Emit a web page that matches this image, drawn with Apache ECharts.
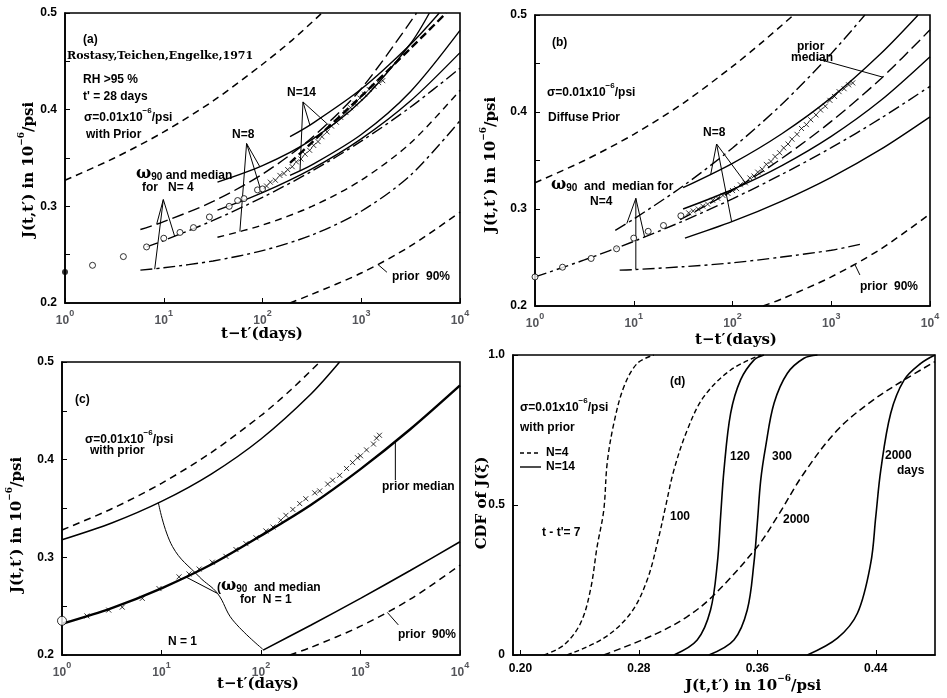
<!DOCTYPE html>
<html><head><meta charset="utf-8">
<script src="https://cdn.jsdelivr.net/npm/echarts@6/dist/echarts.min.js"></script>
<style>html,body{margin:0;padding:0;background:#fff}#c{width:947px;height:698px}</style>
</head><body><div id="c"></div>
<script>
// ================= DATA =================
const yTicksJ = [0.2, 0.3, 0.4, 0.5];
const xTicksCDF = [0.20, 0.28, 0.36, 0.44];
const yTicksCDF = [0, 0.5, 1.0];

// ---- Panel (a) ----
const aPrior10T = [1, 3.16, 10, 31.6, 100, 200, 400];
const aPrior10J = [0.327, 0.350, 0.377, 0.409, 0.447, 0.472, 0.5];
const aPrior90T = [190, 316, 1000, 3162, 10000];
const aPrior90J = [0.2, 0.209, 0.231, 0.259, 0.294];
const aN4LoT = [5.8, 10, 31.6, 100, 316, 1000, 3162, 10000];
const aN4LoJ = [0.234, 0.2364, 0.2435, 0.2542, 0.2703, 0.2949, 0.3322, 0.3886];
const aN4MedT = [6.7, 10, 31.6, 100, 316, 1000, 3162, 10000];
const aN4MedJ = [0.258, 0.2646, 0.2854, 0.3093, 0.3364, 0.3674, 0.4027, 0.4429];
const aN4UpT = [5.8, 10, 31.6, 100, 316, 1000, 3630];
const aN4UpJ = [0.276, 0.2841, 0.3051, 0.3333, 0.371, 0.4217, 0.5];
const aN8LoT = [35, 100, 316, 1000, 3162, 10000];
const aN8LoJ = [0.268, 0.2806, 0.2999, 0.3271, 0.3655, 0.42];
const aN8MedT = [35, 100, 316, 1000, 3162, 10000];
const aN8MedJ = [0.296, 0.3141, 0.3387, 0.3698, 0.4092, 0.459];
const aN8UpT = [35, 100, 316, 1000, 3162, 4900];
const aN8UpJ = [0.325, 0.342, 0.369, 0.4091, 0.4685, 0.5];
const aN14LoT = [190, 316, 1000, 3162, 10000];
const aN14LoJ = [0.332, 0.3428, 0.3743, 0.4189, 0.482];
const aN14MedT = [190, 316, 1000, 3162, 7250];
const aN14MedJ = [0.345, 0.366, 0.414, 0.4635, 0.5];
const aN14UpT = [190, 316, 1000, 3162, 6170];
const aN14UpJ = [0.372, 0.3853, 0.4213, 0.4677, 0.5];
const aCircT = [1.9, 3.9, 6.7, 10, 14.6, 20, 29, 46, 56, 65, 89, 100];
const aCircJ = [0.239, 0.248, 0.258, 0.267, 0.273, 0.278, 0.289, 0.300, 0.306, 0.308, 0.317, 0.318];
const aFirstT = [1];
const aFirstJ = [0.232];
const aCrossT = [110, 120, 135, 150, 165, 180, 200, 220, 245, 270, 300, 330, 365, 400, 450, 500, 560, 620, 700, 780, 870, 970, 1080, 1200, 1350, 1500, 1650];
const aCrossJ = [0.321, 0.325, 0.327, 0.332, 0.334, 0.338, 0.341, 0.346, 0.349, 0.354, 0.358, 0.363, 0.367, 0.372, 0.377, 0.383, 0.387, 0.392, 0.397, 0.402, 0.406, 0.412, 0.416, 0.421, 0.424, 0.428, 0.430];

// ---- Panel (b) ----
const bPrior10T = [1, 3.16, 10, 31.6, 100, 200, 415];
const bPrior10J = [0.327, 0.350, 0.377, 0.409, 0.447, 0.472, 0.5];
const bPrior90T = [204, 316, 1000, 3162, 10000];
const bPrior90J = [0.2, 0.2073, 0.230, 0.2587, 0.295];
const bN4LoT = [7.2, 10, 31.6, 100, 316, 1000, 1950];
const bN4LoJ = [0.237, 0.2375, 0.2405, 0.2445, 0.2505, 0.2575, 0.2635];
const bN4MedT = [1, 3.16, 10, 31.6, 100, 316, 1000, 3162, 10000];
const bN4MedJ = [0.230, 0.2475, 0.2666, 0.2876, 0.3105, 0.3357, 0.3632, 0.3934, 0.4265];
const bN4UpT = [6.5, 10, 31.6, 100, 316, 1000, 2190];
const bN4UpJ = [0.278, 0.2897, 0.3237, 0.3629, 0.408, 0.4602, 0.5];
const bN8LoT = [33, 100, 316, 1000, 3162, 10000];
const bN8LoJ = [0.27, 0.2872, 0.3082, 0.3327, 0.3614, 0.395];
const bN8MedT = [31.6, 100, 316, 1000, 3162, 10000];
const bN8MedJ = [0.30, 0.3201, 0.3448, 0.3749, 0.4118, 0.457];
const bPriorMedT = [29.5, 100, 316, 1000, 3162, 10000];
const bPriorMedJ = [0.289, 0.3192, 0.3522, 0.3903, 0.4341, 0.4847];
const bN8UpT = [31.6, 100, 316, 1000, 3162, 7590];
const bN8UpJ = [0.322, 0.3471, 0.3776, 0.4148, 0.46, 0.5];
const bCircT = [1, 1.9, 3.7, 6.7, 10, 14, 20, 30];
const bCircJ = [0.230, 0.240, 0.249, 0.259, 0.270, 0.277, 0.283, 0.293];
const bCrossT = [36, 40, 45, 50, 56, 63, 71, 80, 90, 100, 110, 120, 135, 150, 165, 180, 200, 220, 245, 270, 300, 330, 365, 400, 450, 500, 560, 620, 700, 780, 870, 970, 1080, 1200, 1350, 1500, 1650];
const bCrossJ = [0.296, 0.298, 0.300, 0.303, 0.305, 0.309, 0.311, 0.314, 0.316, 0.319, 0.321, 0.325, 0.327, 0.332, 0.334, 0.338, 0.341, 0.346, 0.349, 0.354, 0.358, 0.363, 0.367, 0.372, 0.377, 0.383, 0.387, 0.392, 0.397, 0.402, 0.406, 0.412, 0.416, 0.421, 0.424, 0.428, 0.430];

// ---- Panel (c) ----
const cPrior10T = [1, 3.16, 10, 31.6, 100, 200, 390];
const cPrior10J = [0.328, 0.3497, 0.3758, 0.4073, 0.4452, 0.4716, 0.5];
const cN1UpT = [1, 3.16, 10, 31.6, 100, 316, 617];
const cN1UpJ = [0.318, 0.3352, 0.3573, 0.3853, 0.4212, 0.467, 0.5];
const cMedT = [1, 3.16, 10, 31.6, 100, 316, 1000, 3162, 10000];
const cMedJ = [0.232, 0.2481, 0.2683, 0.2926, 0.3222, 0.3536, 0.3903, 0.4311, 0.476];
const cN1LoT = [105, 316, 1000, 3162, 10000];
const cN1LoJ = [0.205, 0.2305, 0.258, 0.2865, 0.316];
const cPrior90T = [195, 316, 1000, 3162, 10000];
const cPrior90J = [0.2, 0.2077, 0.2295, 0.2571, 0.292];
const cFirstT = [1];
const cFirstJ = [0.235];
const cCrossT = [1.78, 2.95, 4.03, 6.41, 9.44, 15.0, 18.9, 23.9, 32.4, 44.4, 56.0, 70.6, 89.1, 112, 132, 158, 178, 209, 245, 282, 347, 389, 468, 525, 617, 724, 832, 933, 1000, 1150, 1350, 1450, 1550];
const cCrossJ = [0.240, 0.246, 0.249, 0.258, 0.268, 0.280, 0.283, 0.288, 0.295, 0.301, 0.308, 0.314, 0.320, 0.327, 0.331, 0.338, 0.343, 0.349, 0.355, 0.360, 0.366, 0.368, 0.375, 0.379, 0.384, 0.391, 0.397, 0.402, 0.404, 0.410, 0.416, 0.422, 0.425];

// ---- Panel (d) ----
const d7J = [0.2158, 0.2293, 0.2406, 0.2473, 0.2518, 0.2563, 0.2586, 0.2631, 0.2699, 0.2789, 0.2901];
const d7C = [0, 0.033, 0.106, 0.217, 0.361, 0.483, 0.639, 0.772, 0.894, 0.972, 1.0];
const d100J = [0.2315, 0.2563, 0.2744, 0.2856, 0.2935, 0.298, 0.3037, 0.3127, 0.3239, 0.342, 0.3623];
const d100C = [0, 0.056, 0.139, 0.25, 0.394, 0.494, 0.617, 0.75, 0.861, 0.95, 1.0];
const d120J = [0.3037, 0.3194, 0.3284, 0.333, 0.3352, 0.3375, 0.342, 0.3487, 0.3577, 0.3645];
const d120C = [0, 0.05, 0.15, 0.306, 0.461, 0.617, 0.806, 0.917, 0.983, 1.0];
const d300J = [0.3273, 0.3442, 0.3532, 0.3577, 0.36, 0.3623, 0.3656, 0.3713, 0.3803, 0.3915, 0.4006];
const d300C = [0, 0.05, 0.15, 0.306, 0.439, 0.583, 0.694, 0.839, 0.939, 0.989, 1.0];
const d2000N4J = [0.2563, 0.2901, 0.3127, 0.3307, 0.36, 0.3735, 0.3915, 0.4141, 0.4366, 0.4592, 0.48];
const d2000N4C = [0, 0.067, 0.128, 0.2, 0.361, 0.461, 0.606, 0.75, 0.844, 0.917, 0.978];
const d2000N14J = [0.3938, 0.4141, 0.4276, 0.4366, 0.44, 0.4434, 0.4501, 0.4592, 0.4704, 0.48];
const d2000N14C = [0, 0.056, 0.139, 0.306, 0.461, 0.617, 0.806, 0.917, 0.972, 1.0];

// ---- Annotation leader lines (data coords: [t, J]) ----
const leaders = [
  {g: 0, pts: [[9.9, 0.307], [8.5, 0.282]]},
  {g: 0, pts: [[9.9, 0.307], [12.9, 0.269]]},
  {g: 0, pts: [[9.9, 0.307], [8.1, 0.235]]},
  {g: 0, pts: [[69, 0.365], [94, 0.341]]},
  {g: 0, pts: [[69, 0.365], [98, 0.314]]},
  {g: 0, pts: [[69, 0.365], [59, 0.274]]},
  {g: 0, pts: [[257, 0.408], [302, 0.384]]},
  {g: 0, pts: [[257, 0.408], [479, 0.383]]},
  {g: 0, pts: [[257, 0.408], [240, 0.337]]},
  {g: 0, pts: [[1480, 0.2397], [1820, 0.2318]]},
  {g: 1, pts: [[10.5, 0.311], [8.5, 0.285]]},
  {g: 1, pts: [[10.5, 0.311], [12.9, 0.271]]},
  {g: 1, pts: [[10.5, 0.311], [10.5, 0.238]]},
  {g: 1, pts: [[69, 0.367], [60, 0.335]]},
  {g: 1, pts: [[69, 0.367], [135, 0.327]]},
  {g: 1, pts: [[69, 0.367], [98, 0.287]]},
  {g: 1, pts: [[708, 0.455], [3310, 0.436]]},
  {g: 1, pts: [[1740, 0.2425], [1950, 0.232]]},
  {g: 2, pts: [[9.3, 0.356], [12.9, 0.311], [24, 0.280], [36.6, 0.263], [51.8, 0.236], [104, 0.206]], smooth: true},
  {g: 2, pts: [[36.6, 0.263], [17.5, 0.280]]},
  {g: 2, pts: [[2240, 0.418], [2240, 0.379]]},
  {g: 2, pts: [[1860, 0.2436], [2400, 0.2308]]}
];

// ================= CHART =================
const chart = echarts.init(document.getElementById('c'), null, {renderer: 'canvas'});
const LBL = {fontFamily: 'Liberation Sans', fontWeight: 'bold', fontSize: 12, color: '#000'};
const DASH = [7, 5], LONGDASH = [12, 5], DASHDOT = [12, 4, 3, 4], SHORT = [5, 3];

const grids = [
  {left: 65, top: 13, width: 395, height: 290},
  {left: 535, top: 15, width: 395, height: 291},
  {left: 62, top: 362, width: 398, height: 293},
  {left: 513, top: 355, width: 422, height: 300}
].map(g => Object.assign(g, {show: true, borderColor: '#000', borderWidth: 1.6, backgroundColor: 'transparent', containLabel: false, outerBoundsMode: 'none'}));

function logX(i) {
  return {
    type: 'log', logBase: 10, min: 1, max: 10000, gridIndex: i,
    axisLine: {show: true, lineStyle: {color: '#000', width: 1.6}},
    axisTick: {show: true, inside: true, length: 5, lineStyle: {color: '#000'}},
    splitLine: {show: false}, minorTick: {show: false},
    axisLabel: {
      margin: 6,
      formatter: v => '{b|10}{s|' + Math.round(Math.log10(v)) + '}',
      rich: {
        b: {fontFamily: 'Liberation Sans', fontWeight: 'bold', fontSize: 12, lineHeight: 18, verticalAlign: 'bottom', padding: [6, 0, 0, 0]},
        s: {fontFamily: 'Liberation Sans', fontWeight: 'bold', fontSize: 9, lineHeight: 9, verticalAlign: 'top'}
      }
    }
  };
}
function jY(i) {
  return {
    type: 'value', min: 0.2, max: 0.5, interval: 0.05, gridIndex: i,
    axisLine: {show: true, lineStyle: {color: '#000', width: 1.6}},
    axisTick: {show: true, inside: true, length: 5, lineStyle: {color: '#000'}},
    splitLine: {show: false},
    axisLabel: Object.assign({}, LBL, {
      margin: 8,
      formatter: v => {
        const r = Math.round(v * 10) / 10;
        return (Math.abs(v - r) < 1e-6 && yTicksJ.some(t => Math.abs(t - r) < 1e-6)) ? r.toFixed(1) : '';
      }
    })
  };
}
const xAxes = [logX(0), logX(1), logX(2), {
  type: 'value', min: 0.195, max: 0.48, gridIndex: 3,
  axisLine: {show: true, lineStyle: {color: '#000', width: 1.6}},
  axisTick: {show: true, inside: true, length: 5, customValues: xTicksCDF, lineStyle: {color: '#000'}},
  splitLine: {show: false},
  axisLabel: Object.assign({}, LBL, {customValues: xTicksCDF, margin: 8, formatter: v => v.toFixed(2)})
}];
const yAxes = [jY(0), jY(1), jY(2), {
  type: 'value', min: 0, max: 1, gridIndex: 3,
  axisLine: {show: true, lineStyle: {color: '#000', width: 1.6}},
  axisTick: {show: true, inside: true, length: 5, customValues: yTicksCDF, lineStyle: {color: '#000'}},
  splitLine: {show: false},
  axisLabel: Object.assign({}, LBL, {customValues: yTicksCDF, margin: 8, formatter: v => (v === 0 ? '0' : v.toFixed(1))})
}];

function zip(a, b) { return a.map((v, i) => [v, b[i]]); }
function curve(g, xs, ys, type, w, sm) {
  return {type: 'line', xAxisIndex: g, yAxisIndex: g, data: zip(xs, ys), smooth: sm == null ? 0.3 : sm,
    symbol: 'none', showSymbol: false, silent: true, clip: true, z: 3,
    lineStyle: {color: '#000', width: w || 1.4, type: type || 'solid'}};
}
function marks(g, xs, ys, kind, size) {
  const s = {type: 'scatter', xAxisIndex: g, yAxisIndex: g, data: zip(xs, ys), silent: true, z: 5, clip: false};
  if (kind === 'x') {
    s.symbol = 'path://M0 0L10 10M10 0L0 10';
    s.symbolSize = size || 5;
    s.itemStyle = {color: 'rgba(0,0,0,0)', borderColor: '#000', borderWidth: 1};
  } else if (kind === 'dot') {
    s.symbol = 'circle'; s.symbolSize = size || 6;
    s.itemStyle = {color: '#000'};
  } else {
    s.symbol = 'circle'; s.symbolSize = size || 6;
    s.itemStyle = {color: '#fff', borderColor: '#000', borderWidth: 1};
  }
  return s;
}

const series = [
  // (a)
  curve(0, aPrior10T, aPrior10J, DASH, 1.5),
  curve(0, aPrior90T, aPrior90J, DASH, 1.5),
  curve(0, aN4LoT, aN4LoJ, DASHDOT),
  curve(0, aN4MedT, aN4MedJ, DASHDOT),
  curve(0, aN4UpT, aN4UpJ, LONGDASH),
  curve(0, aN8LoT, aN8LoJ, DASH),
  curve(0, aN8MedT, aN8MedJ),
  curve(0, aN8UpT, aN8UpJ),
  curve(0, aN14LoT, aN14LoJ),
  curve(0, aN14MedT, aN14MedJ, [8, 4], 2.4),
  curve(0, aN14UpT, aN14UpJ),
  marks(0, aCircT, aCircJ, 'o', 6),
  marks(0, aFirstT, aFirstJ, 'dot', 6),
  marks(0, aCrossT, aCrossJ, 'x', 5),
  // (b)
  curve(1, bPrior10T, bPrior10J, DASH, 1.5),
  curve(1, bPrior90T, bPrior90J, DASH, 1.5),
  curve(1, bN4LoT, bN4LoJ, DASHDOT),
  curve(1, bN4MedT, bN4MedJ, DASHDOT),
  curve(1, bN4UpT, bN4UpJ, DASHDOT),
  curve(1, bN8LoT, bN8LoJ),
  curve(1, bN8MedT, bN8MedJ),
  curve(1, bPriorMedT, bPriorMedJ, LONGDASH),
  curve(1, bN8UpT, bN8UpJ),
  marks(1, bCircT, bCircJ, 'o', 6),
  marks(1, bCrossT, bCrossJ, 'x', 5),
  // (c)
  curve(2, cPrior10T, cPrior10J, DASH, 1.5),
  curve(2, cN1UpT, cN1UpJ, 'solid', 1.5),
  curve(2, cMedT, cMedJ, 'solid', 2.4),
  curve(2, cN1LoT, cN1LoJ, 'solid', 1.6),
  curve(2, cPrior90T, cPrior90J, DASH, 1.5),
  marks(2, cCrossT, cCrossJ, 'x', 5),
  marks(2, cFirstT, cFirstJ, 'o', 9),
  // (d)
  curve(3, d7J, d7C, SHORT, 1.4, 0.35),
  curve(3, d100J, d100C, SHORT, 1.4, 0.35),
  curve(3, d120J, d120C, 'solid', 1.6, 0.35),
  curve(3, d300J, d300C, 'solid', 1.6, 0.35),
  curve(3, d2000N4J, d2000N4C, [7, 4], 1.5, 0.35),
  curve(3, d2000N14J, d2000N14C, 'solid', 1.6, 0.35)
];
leaders.forEach(l => series.push({
  type: 'line', xAxisIndex: l.g, yAxisIndex: l.g, data: l.pts, smooth: l.smooth ? 0.4 : false,
  symbol: 'none', silent: true, clip: false, z: 4, lineStyle: {color: '#000', width: 1}
}));

// ---- text annotations ----
const F = 'bold 12px "Liberation Sans"';
const TF = 'bold 15px "DejaVu Serif"';
const RICH = {
  m: {font: 'bold 12px "Liberation Sans"', fill: '#000', lineHeight: 17, verticalAlign: 'bottom'},
  s: {font: 'bold 8px "Liberation Sans"', fill: '#000', lineHeight: 8, verticalAlign: 'top'},
  w: {font: 'bold 16px "DejaVu Serif"', fill: '#000', lineHeight: 18, verticalAlign: 'bottom'},
  sub: {font: 'bold 10px "Liberation Sans"', fill: '#000', lineHeight: 10, verticalAlign: 'bottom'},
  T: {font: TF, fill: '#000', lineHeight: 20, verticalAlign: 'bottom'},
  TS: {font: 'bold 9px "DejaVu Serif"', fill: '#000', lineHeight: 9, verticalAlign: 'top'}
};
function T(text, x, y, font, align) {
  return {type: 'text', x: x, y: y, silent: true, z: 10,
    style: {text: text, font: font || F, fill: '#000', align: align || 'left', verticalAlign: 'middle', rich: RICH}};
}
function R(x, y, rot, text, align) {
  return {type: 'text', x: x, y: y, rotation: rot || 0, silent: true, z: 10,
    style: {text: text, fill: '#000', align: align || 'center', verticalAlign: 'middle', rich: RICH}};
}
const sigma = '{m|σ=0.01x10}{s|−6}{m|/psi}';
const yTitle = '{T|J(t,t′) in 10}{TS|−6}{T|/psi}';
const graphics = [
  // (a)
  T('(a)', 83, 40),
  T('Rostasy,Teichen,Engelke,1971', 67, 56, 'bold 11px "DejaVu Serif"'),
  T('RH >95 %', 83, 80),
  T("t' = 28 days", 83, 97),
  R(84, 115, 0, sigma, 'left'),
  T('with Prior', 86, 135),
  T('N=14', 287, 93),
  T('N=8', 232, 135),
  R(136, 173, 0, '{w|ω}{sub|90}{m| and median}', 'left'),
  T('for   N= 4', 142, 188),
  T('prior  90%', 392, 277),
  // (b)
  T('(b)', 552, 43),
  T('prior', 797, 47),
  T('median', 791, 58),
  R(547, 90, 0, sigma, 'left'),
  T('Diffuse Prior', 548, 118),
  T('N=8', 703, 133),
  R(551, 184, 0, '{w|ω}{sub|90}{m|  and  median for}', 'left'),
  T('N=4', 590, 202),
  T('prior  90%', 860, 287),
  // (c)
  T('(c)', 75, 400),
  R(85, 437, 0, sigma, 'left'),
  T('with prior', 90, 451),
  T('prior median', 382, 487),
  R(217, 585, 0, '{m|(}{w|ω}{sub|90}{m|  and median}', 'left'),
  T('for  N = 1', 240, 600),
  T('N = 1', 168, 642),
  T('prior  90%', 398, 635),
  // (d)
  T('(d)', 670, 382),
  R(520, 405, 0, sigma, 'left'),
  T('with prior', 520, 428),
  {type: 'line', silent: true, shape: {x1: 520, y1: 453, x2: 541, y2: 453}, style: {stroke: '#000', lineWidth: 1.3, lineDash: [4, 3]}},
  T('N=4', 546, 453),
  {type: 'line', silent: true, shape: {x1: 520, y1: 467, x2: 541, y2: 467}, style: {stroke: '#000', lineWidth: 1.4}},
  T('N=14', 546, 467),
  T("t - t'= 7", 542, 533),
  T('100', 670, 517),
  T('120', 730, 457),
  T('300', 772, 457),
  T('2000', 783, 520),
  T('2000', 885, 456),
  T('days', 897, 471),
  // axis titles
  T('t−t′(days)', 262, 334, TF, 'center'),
  T('t−t′(days)', 736, 340, TF, 'center'),
  T('t−t′(days)', 258, 684, TF, 'center'),
  R(753, 684, 0, yTitle),
  R(27, 170, Math.PI / 2, yTitle),
  R(489, 165, Math.PI / 2, yTitle),
  R(15, 525, Math.PI / 2, yTitle),
  R(480, 503, Math.PI / 2, '{T|CDF of J(ξ)}')
];

chart.setOption({
  animation: false,
  backgroundColor: '#fff',
  grid: grids,
  xAxis: xAxes,
  yAxis: yAxes,
  series: series,
  graphic: graphics
});
</script></body></html>
